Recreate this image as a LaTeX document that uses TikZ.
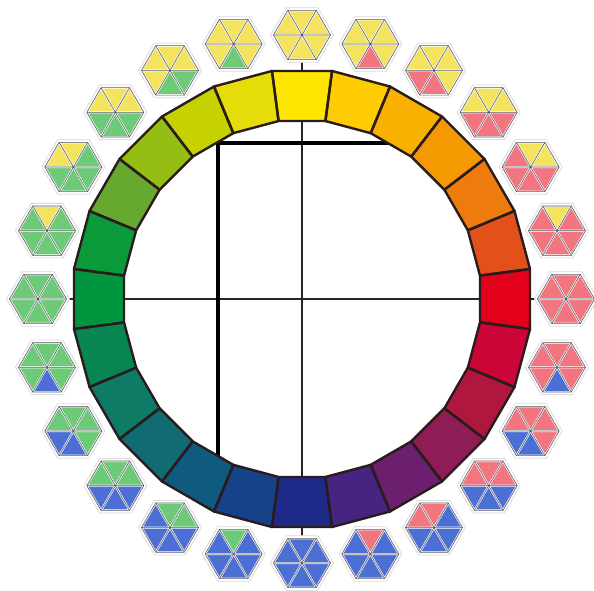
\documentclass[tikz,border=0pt]{standalone}
\definecolor{triY}{HTML}{F3E35F}
\definecolor{triR}{HTML}{F27580}
\definecolor{triB}{HTML}{4C6FD6}
\definecolor{triG}{HTML}{6DCB78}
\definecolor{segline}{HTML}{2A1C1C}
\definecolor{paper}{HTML}{DADADA}
\definecolor{hexline}{HTML}{55555F}
\tikzset{
  segborder/.style={draw=segline, line width=2.4pt, line join=round},
  crossline/.style={draw=black!85, line width=1.4pt},
  thickL/.style={draw=black, line width=4.5pt, line join=miter},
  hexpaper/.style={fill=white, draw=paper, line width=0.8pt},
  hexgap/.style={draw=white, line width=2pt},
  hexthin/.style={draw=hexline, line width=0.6pt},
}
\begin{document}
\begin{tikzpicture}[x=1pt,y=1pt]
\useasboundingbox (-302,-291) rectangle (292,299);
\coordinate (O) at (0,0);
% cross lines with small ticks
\coordinate (xl) at (180:237);
\coordinate (xr) at (0:237);
\coordinate (yt) at (90:237);
\coordinate (yb) at (270:237);
\draw[crossline] (xl) -- (xr);
\draw[crossline] (yt) -- (yb);
% thick L
\coordinate (L1) at (-84,-172);
\coordinate (L2) at (-84,156);
\coordinate (L3) at (100,156);
\draw[thickL] (L1) -- (L2) -- (L3);
% colour ring
\foreach \h [count=\j from 0] in {FFE600,E6DC0A,C5D200,95BD14,67A830,0B9A3A,009640,078652,0E7B66,106B73,0F5A7F,154289,1E2A87,472482,6B1F6E,8F1C55,B0173F,CB0535,E3001B,E4501A,EE7B0E,F49A00,F9B100,FECC00} {
  \definecolor{segc}{HTML}{\h}
  \pgfmathsetmacro\a{90+15*\j}
  \fill[segc] ({\a-7.5}:230) -- ({\a+7.5}:230) -- ({\a+7.5}:179.5) -- ({\a-7.5}:179.5) -- cycle;
}
\foreach \j in {0,...,23} {
  \pgfmathsetmacro\a{90+15*\j}
  \draw[segborder] ({\a-7.5}:230) -- ({\a+7.5}:230) -- ({\a+7.5}:179.5) -- ({\a-7.5}:179.5) -- cycle;
}
% hexagons: triangle order 30,90,150,210,270,330 degrees
\foreach \p [count=\k from 0] in {
  {Y,Y,Y,Y,Y,Y},{Y,Y,Y,Y,R,Y},{Y,Y,Y,R,R,Y},{Y,Y,Y,R,R,R},{Y,Y,R,R,R,R},{R,Y,R,R,R,R},
  {R,R,R,R,R,R},{R,R,R,R,B,R},{R,R,R,B,B,R},{R,R,R,B,B,B},{B,R,R,B,B,B},{B,R,B,B,B,B},
  {B,B,B,B,B,B},{B,G,B,B,B,B},{G,G,B,B,B,B},{G,G,G,B,B,B},{G,G,G,B,B,G},{G,G,G,G,B,G},
  {G,G,G,G,G,G},{G,Y,G,G,G,G},{G,Y,Y,G,G,G},{Y,Y,Y,G,G,G},{Y,Y,Y,Y,G,G},{Y,Y,Y,Y,G,Y}} {
  \pgfmathsetmacro\b{90-15*\k}
  \begin{scope}[shift={(\b:264)}]
    \path[hexpaper] (0:31.5) -- (60:31.5) -- (120:31.5) -- (180:31.5) -- (240:31.5) -- (300:31.5) -- cycle;
    \foreach \t [count=\i from 0] in \p {
      \fill[tri\t] (0,0) -- ({60*\i}:28.5) -- ({60*\i+60}:28.5) -- cycle;
    }
    \draw[hexgap] (0:28.5) -- (180:28.5) (60:28.5) -- (240:28.5) (120:28.5) -- (300:28.5);
    \draw[hexgap] (0:28.5) -- (60:28.5) -- (120:28.5) -- (180:28.5) -- (240:28.5) -- (300:28.5) -- cycle;
    \draw[hexthin] (0:28.5) -- (180:28.5) (60:28.5) -- (240:28.5) (120:28.5) -- (300:28.5);
    \draw[hexthin] (0:28.5) -- (60:28.5) -- (120:28.5) -- (180:28.5) -- (240:28.5) -- (300:28.5) -- cycle;
  \end{scope}
}
\end{tikzpicture}
\end{document}
